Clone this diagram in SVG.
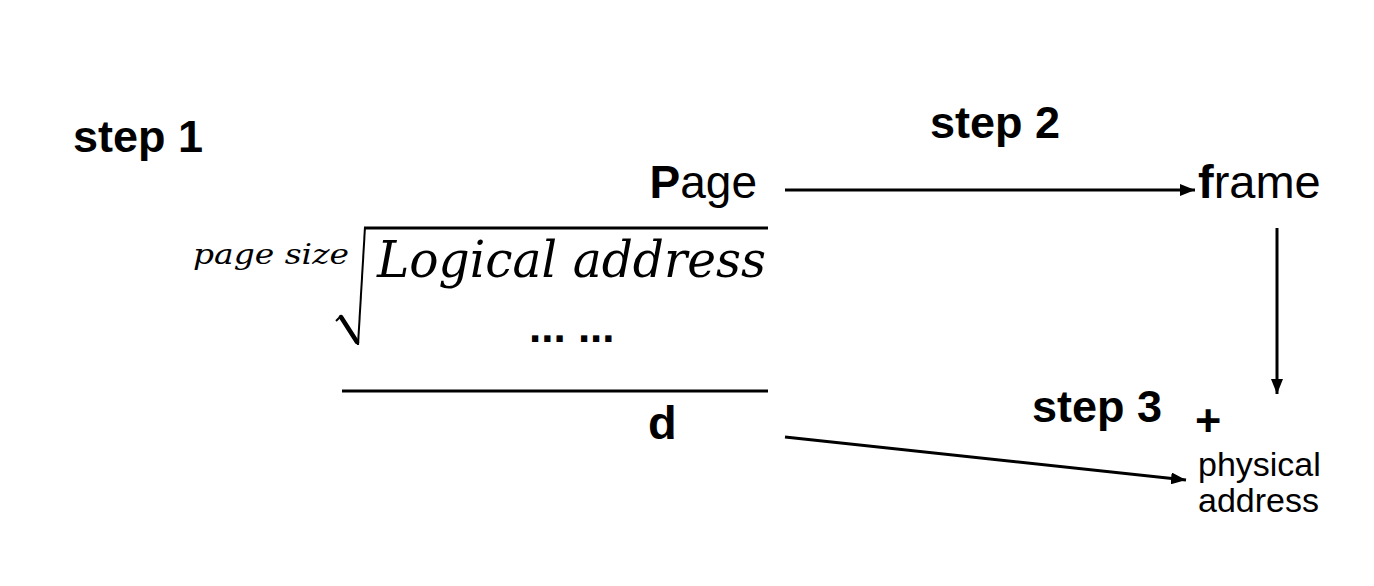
<svg xmlns="http://www.w3.org/2000/svg" width="1374" height="586" viewBox="0 0 1374 586">
<style>
.s{font-family:"Liberation Sans",Arial,sans-serif;font-weight:bold;font-size:45px;fill:#000}
.t{font-family:"Liberation Sans",Arial,sans-serif;font-size:46px;fill:#000}
.m{font-family:"DejaVu Serif","Liberation Serif",serif;font-style:italic;fill:#000}
.ln{stroke:#000;stroke-width:3;fill:none}
</style>
<defs>
<marker id="ah" viewBox="0 0 10 10" refX="10" refY="5" markerWidth="5" markerHeight="4" orient="auto" markerUnits="strokeWidth" preserveAspectRatio="none">
<path d="M0,0 L10,5 L0,10 z" fill="#000"/>
</marker>
</defs>
<rect width="1374" height="586" fill="#fff"/>
<g id="step1"><text class="s" x="73" y="152">step 1</text></g>
<g id="step2"><text class="s" x="930" y="138">step 2</text></g>
<g id="step3"><text class="s" x="1032" y="422">step 3</text></g>
<g id="page"><text class="t" x="757" y="198" text-anchor="end"><tspan font-weight="bold">P</tspan>age</text></g>
<g id="frame"><text class="t" x="1198" y="198" style="font-size:47px"><tspan font-weight="bold">f</tspan>rame</text></g>
<g id="division">
<text class="m" x="193" y="264" style="font-size:28px" textLength="156" lengthAdjust="spacingAndGlyphs">page size</text>
<path d="M336,321 L341,316" stroke="#000" stroke-width="2" fill="none"/>
<path d="M341,317 L357,342" stroke="#000" stroke-width="4.5" fill="none" stroke-linecap="round"/>
<path d="M358,345 L365,227" stroke="#000" stroke-width="2" fill="none"/>
<line class="ln" x1="364" y1="228" x2="768" y2="228"/>
<text class="m" x="377" y="277" style="font-size:51px" textLength="389" lengthAdjust="spacingAndGlyphs">Logical address</text>
<text class="s" x="529" y="342" style="font-size:44px">... ...</text>
<line class="ln" x1="342" y1="391" x2="768" y2="391"/>
</g>
<g id="d"><text class="s" x="648" y="439" style="font-size:47px">d</text></g>
<g id="plus"><text class="s" x="1195" y="436">+</text></g>
<g id="physical">
<text class="t" x="1198" y="476" style="font-size:34px">physical</text>
<text class="t" x="1198" y="512" style="font-size:34px">address</text>
</g>
<g id="connectors">
<line class="ln" x1="785" y1="190" x2="1195" y2="190" marker-end="url(#ah)"/>
<line class="ln" x1="1277" y1="228" x2="1277" y2="394" marker-end="url(#ah)"/>
<line class="ln" x1="785" y1="437" x2="1186" y2="480" marker-end="url(#ah)"/>
</g>
</svg>
